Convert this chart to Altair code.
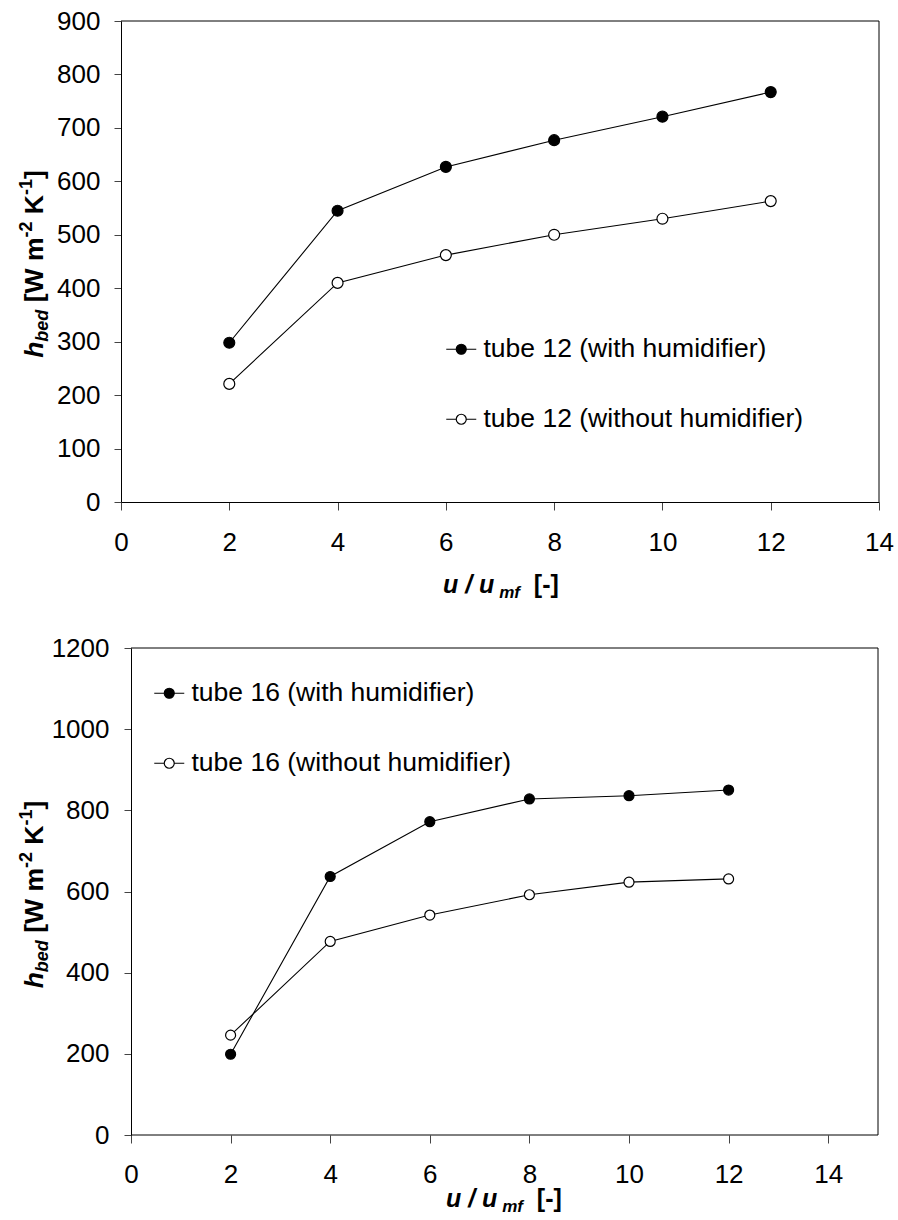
import altair as alt
import pandas as pd

# ---------------- data ----------------
u_ratio = [2, 4, 6, 8, 10, 12]

tube12_with = [298, 545, 627, 677, 721, 767]
tube12_without = [221, 410, 462, 500, 530, 563]

tube16_with = [199, 637, 772, 828, 836, 850]
tube16_without = [246, 477, 542, 592, 623, 631]

names12 = ["tube 12 (with humidifier)", "tube 12 (without humidifier)"]
names16 = ["tube 16 (with humidifier)", "tube 16 (without humidifier)"]

x_ticks = [0, 2, 4, 6, 8, 10, 12, 14]
x_domain_top = [0, 14]
x_domain_bottom = [0, 15]
y_ticks_top = [0, 100, 200, 300, 400, 500, 600, 700, 800, 900]
y_ticks_bottom = [0, 200, 400, 600, 800, 1000, 1200]
y_domain_top = [0, 900]
y_domain_bottom = [0, 1200]

# axis title pieces: (text, size, italic, shift)
ytitle_pieces = [
    ("h", 26.5, True, 0),
    ("bed", 18, True, 5),
    (" [W m", 26.5, False, 0),
    ("-2", 18, False, -11),
    (" K", 26.5, False, 0),
    ("-1", 18, False, -11),
    ("]", 26.5, False, 0),
]
xtitle_pieces = [
    ("u / u", 25, True, 0),
    (" mf", 17, True, 5),
    ("  [-]", 25, False, 0),
]

FONT = "Liberation Sans"

# Arial / Liberation Sans Bold advance widths (em)
ADV = {" ": .278, "[": .333, "]": .333, "W": .944, "m": .889, "-": .333,
       "2": .556, "1": .556, "K": .722, "h": .611, "b": .611, "e": .556,
       "d": .611, "u": .611, "/": .278, "f": .333}


def tw(s, size):
    return sum(ADV.get(c, .556) for c in s) * size


def rich_title(pieces, x0, y0, vertical):
    layers = []
    pos = 0.0
    for text, size, italic, shift in pieces:
        lead = len(text) - len(text.lstrip(" "))
        start = pos + tw(text[:lead], size)
        body = text.strip(" ")
        df = pd.DataFrame({"t": [body]})
        kw = dict(font=FONT, fontSize=size, fontWeight="bold",
                  fontStyle="italic" if italic else "normal",
                  color="black", align="left", baseline="alphabetic")
        if vertical:
            m = alt.Chart(df).mark_text(angle=270, **kw).encode(
                text="t:N", x=alt.value(x0 + shift), y=alt.value(y0 - start))
        else:
            m = alt.Chart(df).mark_text(**kw).encode(
                text="t:N", x=alt.value(x0 + start), y=alt.value(y0 + shift))
        layers.append(m)
        pos += tw(text, size)
    return layers


def title_length(pieces):
    return sum(tw(t, s) for t, s, _, _ in pieces)


LEGEND_PATH = ("M -1.5 0 L -0.5 0 M 0.5 0 L 1.5 0 "
               "M -0.5 0 A 0.5 0.5 0 1 0 0.5 0 A 0.5 0.5 0 1 0 -0.5 0 Z")


def panel(with_vals, without_vals, names, xdom, ydom, yticks, W, H, inset,
          marker_size, leg_xy, ytitle_x, ytitle_center, xtitle_xy, xpad, ypad):
    df = pd.DataFrame({
        "u": u_ratio + u_ratio,
        "h": with_vals + without_vals,
        "series": [names[0]] * len(u_ratio) + [names[1]] * len(u_ratio),
    })
    xscale = alt.Scale(domain=xdom, nice=False, zero=False, range=[inset, W])
    yscale = alt.Scale(domain=ydom, nice=False)
    xaxis = alt.Axis(values=x_ticks, title=None, grid=False, format="d",
                     tickSize=8, labelPadding=xpad, domain=inset == 0,
                     labelFlush=False, labelOverlap=False)
    yaxis = alt.Axis(values=yticks, title=None, grid=False, format="d",
                     tickSize=7, labelPadding=ypad, offset=-inset,
                     labelFlush=False, labelOverlap=False)
    x = alt.X("u:Q", scale=xscale, axis=xaxis)
    y = alt.Y("h:Q", scale=yscale, axis=yaxis)
    lines = alt.Chart(df).mark_line(color="black", strokeWidth=1.1).encode(
        x=x, y=y, detail="series:N")
    pts = alt.Chart(df).mark_point(
        filled=True, shape="circle", size=marker_size, stroke="black",
        strokeWidth=1.2, opacity=1).encode(
        x=x, y=y,
        fill=alt.Fill("series:N", sort=names,
                      scale=alt.Scale(domain=names, range=["black", "white"]),
                      legend=alt.Legend(
                          title=None, orient="none",
                          legendX=leg_xy[0], legendY=leg_xy[1],
                          symbolType=LEGEND_PATH, symbolSize=400,
                          symbolStrokeColor="black", symbolStrokeWidth=1.2,
                          symbolOpacity=1,
                          labelFont=FONT, labelFontSize=26.5, labelColor="black",
                          labelOffset=9, rowPadding=43, padding=0,
                          labelLimit=600)))
    # plot-area frame (top, right and, when inset, bottom edge)
    fx1 = [xdom[0], xdom[1]]
    fx2 = [xdom[1], xdom[1]]
    fy1 = [ydom[1], ydom[0]]
    fy2 = [ydom[1], ydom[1]]
    if inset:
        fx1.append(xdom[0]); fx2.append(xdom[1]); fy1.append(ydom[0]); fy2.append(ydom[0])
    frame_df = pd.DataFrame({"fx1": fx1, "fx2": fx2, "fy1": fy1, "fy2": fy2})
    frame = alt.Chart(frame_df).mark_rule(color="black", strokeWidth=1).encode(
        x=alt.X("fx1:Q", scale=xscale, axis=xaxis), x2="fx2:Q",
        y=alt.Y("fy1:Q", scale=yscale, axis=yaxis), y2="fy2:Q")
    ylen = title_length(ytitle_pieces)
    ylayers = rich_title(ytitle_pieces, ytitle_x, ytitle_center + ylen / 2, True)
    xlayers = rich_title(xtitle_pieces, xtitle_xy[0], xtitle_xy[1], False)
    return alt.layer(lines, pts, frame, *ylayers, *xlayers).properties(
        width=W, height=H)


top = panel(tube12_with, tube12_without, names12, x_domain_top, y_domain_top,
            y_ticks_top, 758, 481, 0, 120, (327, 315), -78, 243, (322, 572), 19, 14)
bottom = panel(tube16_with, tube16_without, names16, x_domain_bottom,
               y_domain_bottom, y_ticks_bottom, 757, 487, 10, 100, (35, 32), -78,
               246.5, (325, 559), 18, 15)

chart = alt.vconcat(top, bottom, spacing=32).resolve_scale(
    fill="independent", x="independent", y="independent"
).resolve_legend(fill="independent").properties(
    padding={"left": 17, "top": 7, "right": 0, "bottom": 0},
    background="white",
).configure_view(stroke="transparent").configure_axis(
    domainColor="black", domainWidth=1, tickColor="#444", tickWidth=1,
    labelFont=FONT, labelFontSize=26, labelColor="black"
)

chart.save("out.html", embed_options={"renderer": "svg", "actions": False})
